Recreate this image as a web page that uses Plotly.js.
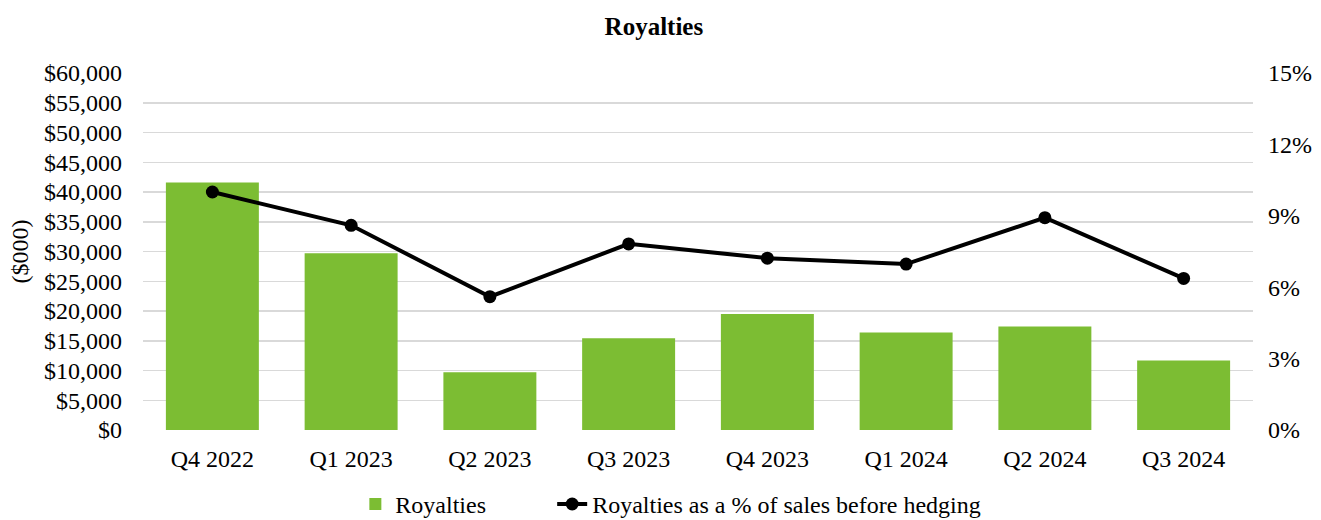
<!DOCTYPE html>
<html>
<head>
<meta charset="utf-8">
<script src="https://cdn.plot.ly/plotly-3.0.1.min.js"></script>
<style>html,body{margin:0;padding:0;background:#fff;}#chart{width:1321px;height:520px;}</style>
</head>
<body>
<div id="chart"></div>
<script>
const quarters = ["Q4 2022","Q1 2023","Q2 2023","Q3 2023","Q4 2023","Q1 2024","Q2 2024","Q3 2024"];
const royalties = [41600, 29700, 9700, 15400, 19500, 16400, 17400, 11700];
const royaltyPct = [10.0, 8.6, 5.6, 7.82, 7.22, 6.97, 8.92, 6.37];
const leftTickVals = [0,5000,10000,15000,20000,25000,30000,35000,40000,45000,50000,55000,60000];
const leftTickText = ["$0","$5,000","$10,000","$15,000","$20,000","$25,000","$30,000","$35,000","$40,000","$45,000","$50,000","$55,000","$60,000"];
const rightTickVals = [0,3,6,9,12,15];
const rightTickText = ["0%","3%","6%","9%","12%","15%"];

const font = "'Liberation Serif', 'Times New Roman', serif";

const traces = [
  {
    type: "bar", x: quarters, y: royalties, name: "Royalties",
    marker: {color: "#7cbd33"}, yaxis: "y", hoverinfo: "skip", legend: "legend"
  },
  {
    type: "scatter", mode: "lines+markers", x: quarters, y: royaltyPct,
    name: "Royalties as a % of sales before hedging", yaxis: "y2",
    line: {color: "#000000", width: 4},
    marker: {color: "#000000", size: 13}, hoverinfo: "skip", legend: "legend2"
  }
];

const legendBase = {orientation: "h", xanchor: "left", xref: "container",
  yref: "container", y: 0.03, yanchor: "middle",
  font: {family: font, size: 24, color: "#000000"}, bgcolor: "rgba(0,0,0,0)"};

const layout = {
  width: 1321, height: 520,
  margin: {l: 143, r: 68, t: 73, b: 90},
  paper_bgcolor: "#ffffff", plot_bgcolor: "#ffffff",
  font: {family: font, size: 24, color: "#000000"},
  title: {text: "<b>Royalties</b>", x: 0.495, xanchor: "center", y: 0.95, yanchor: "middle",
          font: {family: font, size: 25, color: "#000000"}},
  bargap: 0.33,
  showlegend: true,
  legend: Object.assign({}, legendBase, {x: 0.269}),
  legend2: Object.assign({}, legendBase, {x: 0.418}),
  xaxis: {type: "category", showgrid: false, showline: false, zeroline: false,
          ticks: "", tickfont: {family: font, size: 24}, ticklabelstandoff: 12, automargin: false},
  yaxis: {range: [0, 60000], tickvals: leftTickVals, ticktext: leftTickText,
          showgrid: true, gridcolor: "#d9d9d9", gridwidth: 1.5, zeroline: false,
          showline: false, ticks: "", ticklabelstandoff: 20, automargin: false,
          tickfont: {family: font, size: 24},
          title: {text: "($000)", font: {family: font, size: 24}, standoff: 8}},
  yaxis2: {range: [0, 15], tickvals: rightTickVals, ticktext: rightTickText,
           overlaying: "y", side: "right", showgrid: false, zeroline: false,
           showline: false, ticks: "", ticklabelstandoff: 14, automargin: false,
           tickfont: {family: font, size: 24}}
};

Plotly.newPlot("chart", traces, layout, {displayModeBar: false, staticPlot: true});
</script>
</body>
</html>
